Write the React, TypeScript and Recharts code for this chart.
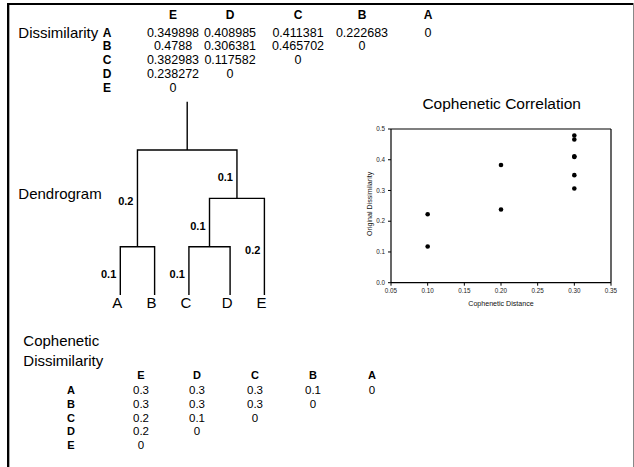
import { ScatterChart, Scatter, XAxis, YAxis, ReferenceLine } from "recharts";

const LEAVES = ["A", "B", "C", "D", "E"];
const COLUMN_ORDER = ["E", "D", "C", "B", "A"];
const LEAF_POSITIONS = [0, 1, 2, 3.2, 4.2];

// upper triangle, one row per leaf, columns in COLUMN_ORDER
const DISSIMILARITY = [
  [0.349898, 0.408985, 0.411381, 0.222683, 0],
  [0.4788, 0.306381, 0.465702, 0],
  [0.382983, 0.117582, 0],
  [0.238272, 0],
  [0],
];

const COPHENETIC = [
  [0.3, 0.3, 0.3, 0.1, 0],
  [0.3, 0.3, 0.3, 0],
  [0.2, 0.1, 0],
  [0.2, 0],
  [0],
];

// [left, right, merge height]
const MERGES: [string, string, number][] = [
  ["A", "B", 0.1],
  ["C", "D", 0.1],
  ["CD", "E", 0.2],
  ["AB", "CDE", 0.3],
];
const ROOT_TOP = 0.4;
const LABELLED_BRANCHES = ["A", "C", "CD", "E", "AB", "CDE"];

const X_TICKS = [0.05, 0.1, 0.15, 0.2, 0.25, 0.3, 0.35];
const Y_TICKS = [0, 0.1, 0.2, 0.3, 0.4, 0.5];

const FONT = "'Liberation Sans', Arial, sans-serif";

// dendrogram geometry built from the merges
const nodes: Record<string, { x: number; h: number; parent?: number }> = {};
LEAVES.forEach((name, i) => (nodes[name] = { x: LEAF_POSITIONS[i], h: 0 }));
const links: { x: number; y: number }[][] = [];
MERGES.forEach(([l, r, h]) => {
  const a = nodes[l];
  const b = nodes[r];
  a.parent = h;
  b.parent = h;
  nodes[l + r] = { x: (a.x + b.x) / 2, h };
  links.push([
    { x: a.x, y: a.h },
    { x: a.x, y: h },
    { x: b.x, y: h },
    { x: b.x, y: b.h },
  ]);
});
const root = nodes[MERGES[MERGES.length - 1][0] + MERGES[MERGES.length - 1][1]];
links.push([
  { x: root.x, y: root.h },
  { x: root.x, y: ROOT_TOP },
]);
const leafPoints = LEAVES.map((name) => ({ x: nodes[name].x, y: 0, name }));
const branchLabels = LABELLED_BRANCHES.map((name) => {
  const n = nodes[name];
  const p = n.parent as number;
  return { x: n.x, y: (n.h + p) / 2, text: (p - n.h).toFixed(1) };
});

// cophenetic vs original pairs
const pairs: { x: number; y: number }[] = [];
LEAVES.forEach((row, i) => {
  DISSIMILARITY[i].forEach((v, j) => {
    if (COLUMN_ORDER[j] !== row) pairs.push({ x: COPHENETIC[i][j], y: v });
  });
});

const XTitle = (props: any) => {
  const { x, y, width } = props.viewBox;
  return (
    <text x={x + width / 2} y={y + 23} textAnchor="middle" fontSize={7.1} fill="#111" fontFamily={FONT}>
      Cophenetic Distance
    </text>
  );
};

const YTitle = (props: any) => {
  const { x, y, height } = props.viewBox;
  const tx = x + 1.5;
  const ty = y + height / 2 - 2;
  return (
    <text
      x={tx}
      y={ty}
      transform={`rotate(-90, ${tx}, ${ty})`}
      textAnchor="middle"
      fontSize={7.1}
      fill="#111"
      fontFamily={FONT}
    >
      Original Dissimilarity
    </text>
  );
};

function Matrix({ values, labelX, cols, headerY, rowY, step, size }: any) {
  return (
    <g fontFamily={FONT} fill="#000" dominantBaseline="central">
      {COLUMN_ORDER.map((c, j) => (
        <text key={c} x={cols[j]} y={headerY} textAnchor="middle" fontSize={size - 0.5} fontWeight="bold">
          {c}
        </text>
      ))}
      {LEAVES.map((r, i) => (
        <g key={r}>
          <text x={labelX} y={rowY + i * step} textAnchor="middle" fontSize={size - 0.5} fontWeight="bold">
            {r}
          </text>
          {values[i].map((v: number, j: number) => (
            <text key={j} x={cols[j]} y={rowY + i * step} textAnchor="middle" fontSize={size}>
              {String(v)}
            </text>
          ))}
        </g>
      ))}
    </g>
  );
}

export default function App() {
  return (
    <div
      style={{
        position: "fixed",
        left: 0,
        top: 0,
        width: 634,
        height: 467,
        overflow: "hidden",
        background: "#fff",
        fontFamily: FONT,
      }}
    >
      {/* dendrogram */}
      <div style={{ position: "absolute", left: 90, top: 80 }}>
        <ScatterChart width={200} height={240} margin={{ top: 21.7, right: 25.6, bottom: 25, left: 30.3 }}>
          <XAxis type="number" dataKey="x" domain={[0, 4.2]} hide />
          <YAxis type="number" dataKey="y" domain={[0, ROOT_TOP]} hide />
          {links.map((pts, i) => (
            <Scatter
              key={i}
              data={pts}
              line={{ stroke: "#000", strokeWidth: 1.4 }}
              shape={() => <g />}
              isAnimationActive={false}
            />
          ))}
          <Scatter
            data={leafPoints}
            isAnimationActive={false}
            shape={(p: any) => (
              <text x={p.cx - 3} y={p.cy + 13} textAnchor="middle" fontSize={15} fontFamily={FONT} fill="#000">
                {p.payload.name}
              </text>
            )}
          />
          <Scatter
            data={branchLabels}
            isAnimationActive={false}
            shape={(p: any) => (
              <text
                x={p.cx - 4}
                y={p.cy + 7}
                textAnchor="end"
                fontSize={11}
                fontWeight="bold"
                fontFamily={FONT}
                fill="#000"
              >
                {p.payload.text}
              </text>
            )}
          />
        </ScatterChart>
      </div>

      {/* cophenetic correlation scatter */}
      <div style={{ position: "absolute", left: 340, top: 90 }}>
        <ScatterChart width={294} height={230} margin={{ top: 39, right: 23, bottom: 17.3, left: 31 }}>
          <XAxis
            type="number"
            dataKey="x"
            domain={[0.05, 0.35]}
            ticks={X_TICKS}
            tickFormatter={(v: number) => v.toFixed(2)}
            height={20}
            tickSize={3}
            tickMargin={3}
            interval={0}
            axisLine={{ stroke: "#000", strokeWidth: 1.2 }}
            tickLine={{ stroke: "#000" }}
            tick={{ fontSize: 6.3, fill: "#222", fontFamily: FONT }}
            label={<XTitle />}
          />
          <YAxis
            type="number"
            dataKey="y"
            domain={[0, 0.5]}
            ticks={Y_TICKS}
            tickFormatter={(v: number) => v.toFixed(1)}
            width={20}
            tickSize={3}
            tickMargin={3}
            interval={0}
            axisLine={{ stroke: "#000", strokeWidth: 1.2 }}
            tickLine={{ stroke: "#000" }}
            tick={{ fontSize: 6.3, fill: "#222", fontFamily: FONT }}
            label={<YTitle />}
          />
          <ReferenceLine y={0.5} stroke="#000" strokeWidth={1.2} />
          <ReferenceLine x={0.35} stroke="#000" strokeWidth={1.2} />
          <Scatter
            data={pairs}
            isAnimationActive={false}
            shape={(p: any) => <circle cx={p.cx} cy={p.cy} r={2.3} fill="#000" />}
          />
        </ScatterChart>
      </div>

      {/* frame, titles and tables */}
      <svg
        width={634}
        height={467}
        style={{ position: "absolute", left: 0, top: 0, pointerEvents: "none" }}
      >
        <line x1={7} y1={4} x2={633} y2={4} stroke="#000" strokeWidth={2} />
        <line x1={8} y1={3} x2={8} y2={467} stroke="#000" strokeWidth={2} />
        <line x1={9.5} y1={5} x2={9.5} y2={467} stroke="#aaa" strokeWidth={1} />
        <line x1={633.5} y1={3} x2={633.5} y2={467} stroke="#888" strokeWidth={1} />
        <g fontFamily={FONT} fill="#000" dominantBaseline="central">
          <text x={18.3} y={32.3} fontSize={15}>Dissimilarity</text>
          <text x={18.3} y={193} fontSize={15}>Dendrogram</text>
          <text x={23.3} y={340} fontSize={15}>Cophenetic</text>
          <text x={23.3} y={360} fontSize={15}>Dissimilarity</text>
          <text x={501.7} y={103} fontSize={15.5} textAnchor="middle">Cophenetic Correlation</text>
        </g>
        <Matrix
          values={DISSIMILARITY}
          labelX={107}
          cols={[173, 230, 298, 362, 428]}
          headerY={15.3}
          rowY={32.5}
          step={13.9}
          size={12.5}
        />
        <Matrix
          values={COPHENETIC}
          labelX={71}
          cols={[141, 197, 255, 313, 372]}
          headerY={375}
          rowY={390}
          step={13.8}
          size={11.5}
        />
      </svg>
    </div>
  );
}
